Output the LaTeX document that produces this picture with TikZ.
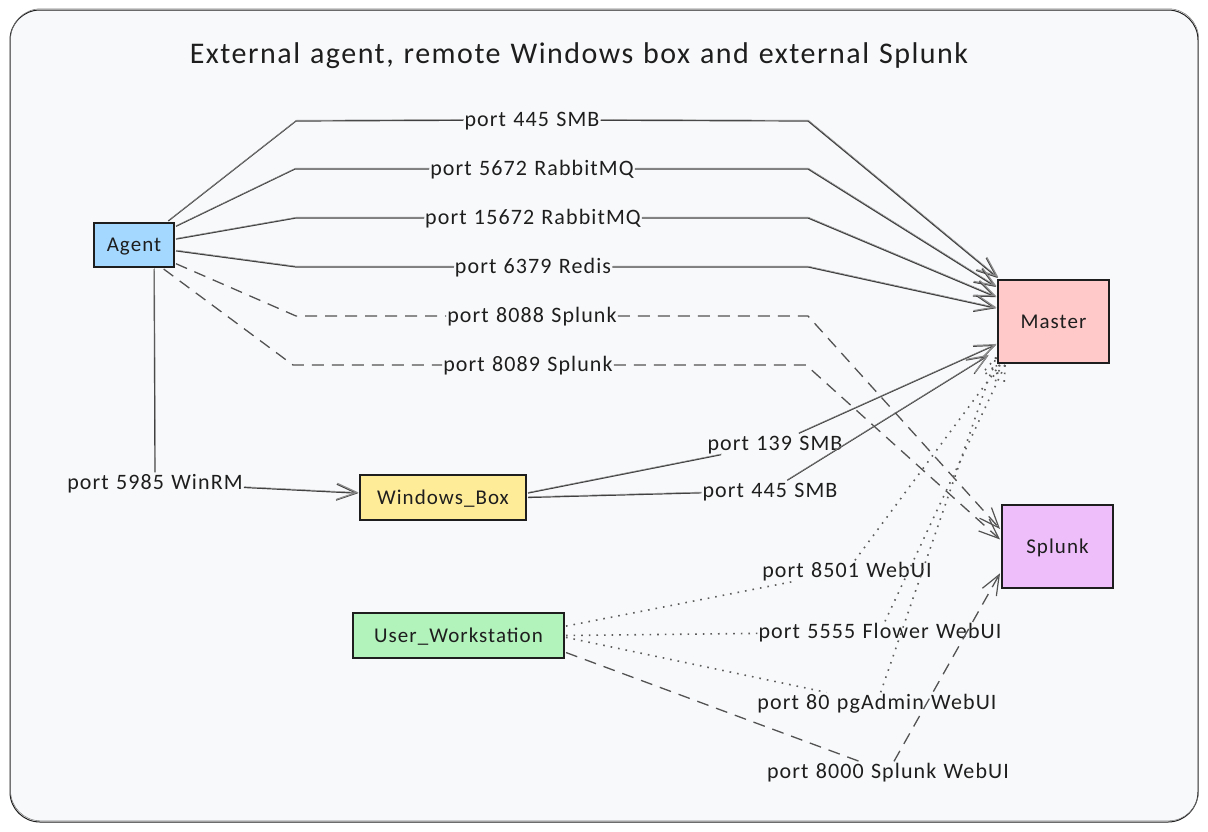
\documentclass[tikz,border=0pt]{standalone}
\usepackage{fontspec}
\setmainfont{Carlito}
\newfontfamily\sketchfont[LetterSpace=5, WordSpace=1.2]{Carlito}
\usetikzlibrary{arrows.meta, decorations.markings}

\definecolor{ink}{HTML}{1E1E1E}
\definecolor{wire}{HTML}{404040}
\definecolor{paper}{HTML}{F8F9FA}
\definecolor{agentblue}{HTML}{A5D8FF}
\definecolor{masterred}{HTML}{FFC9C9}
\definecolor{splunkpurple}{HTML}{EEBEFA}
\definecolor{boxyellow}{HTML}{FFEC99}
\definecolor{usergreen}{HTML}{B2F2BB}

\begin{document}
\begin{tikzpicture} [x=1pt, y=-1pt,
  box/.style={draw=ink, line width=1.9pt, outer sep=2pt, text height=16pt, text depth=3pt, font=\sketchfont\fontsize{21}{25}\selectfont, text=ink},
  port/.style={inner sep=1pt, text height=16pt, text depth=3pt, font=\sketchfont\fontsize{22}{26}\selectfont, text=ink},
  wirehead/.style={-{Straight Barb[length=20pt, width=16pt, line width=1.2pt]}},
  solidwire/.style={draw=wire, line width=1.2pt, postaction={draw=wire!60, line width=.5pt, transform canvas={shift={(.5pt,.8pt)}}}},
  dashwire/.style={draw=wire!90, line width=1.3pt, dash pattern=on 12pt off 8pt},
  dotwire/.style={draw=wire!85, line width=1.6pt, dash pattern=on 1.6pt off 6pt},
  dotbarb/.style={postaction={decorate}, decoration={markings, mark=at position 1 with {
    \draw [dotwire] (0,0) -- (-20pt,8pt);
    \draw [dotwire] (0,0) -- (-20pt,-8pt);}}}]
\useasboundingbox (0,0) rectangle (1208,831);
\draw [draw=ink, line width=1pt, fill=paper, rounded corners=30pt, postaction={draw=ink!60, line width=.5pt, transform canvas={shift={(.6pt,1.2pt)}}}] (10,10) rectangle (1198,822);

\node (title) [text=ink, font=\sketchfont\fontsize{30}{36}\selectfont] at (579,56) {External agent, remote Windows box and external Splunk};

\node (agent) [box, fill=agentblue, minimum width=80pt, minimum height=44pt] at (134,245) {Agent};
\node (master) [box, fill=masterred, minimum width=111pt, minimum height=83pt] at (1053.5,321.5) {Master};
\node (splunk) [box, fill=splunkpurple, minimum width=111pt, minimum height=83pt] at (1057.5,546.5) {Splunk};
\node (winbox) [box, fill=boxyellow, minimum width=166pt, minimum height=45pt] at (443,497.5) {Windows\_Box};
\node (workstation) [box, fill=usergreen, minimum width=211pt, minimum height=45pt] at (458.5,635.5) {User\_Workstation};

\node (smbmaster) [port] at (532,120) {port 445 SMB};
\node (rabbit) [port] at (532,169) {port 5672 RabbitMQ};
\node (rabbitui) [port] at (533,218) {port 15672 RabbitMQ};
\node (redis) [port] at (533,267) {port 6379 Redis};
\node (hecone) [port] at (532,316) {port 8088 Splunk};
\node (hectwo) [port] at (528,365) {port 8089 Splunk};
\node (winrm) [port] at (155,483) {port 5985 WinRM};
\node (netbios) [port] at (775,444) {port 139 SMB};
\node (smbwin) [port] at (770,491) {port 445 SMB};
\node (webui) [port] at (847,571) {port 8501 WebUI};
\node (flower) [port] at (880,632) {port 5555 Flower WebUI};
\node (pgadmin) [port] at (877,703) {port 80 pgAdmin WebUI};
\node (splunkui) [port] at (888,772) {port 8000 Splunk WebUI};

\coordinate (a1) at (296,121);
\coordinate (a2) at (295,169);
\coordinate (a3) at (296,218);
\coordinate (a4) at (296,267);
\coordinate (a5) at (296,316);
\coordinate (a6) at (293,365);
\coordinate (b1) at (808,121);
\coordinate (b2) at (808,169);
\coordinate (b3) at (808,218);
\coordinate (b4) at (808,267);
\coordinate (b5) at (808,316);
\coordinate (b6) at (806,365);

\draw [solidwire] (agent.35) -- (a1) -- (smbmaster);
\draw [solidwire, wirehead] (smbmaster) -- (b1) -- (master.142);
\draw [solidwire] (agent.24) -- (a2) -- (rabbit);
\draw [solidwire, wirehead] (rabbit) -- (b2) -- (master.149);
\draw [solidwire] (agent.8) -- (a3) -- (rabbitui);
\draw [solidwire, wirehead] (rabbitui) -- (b3) -- (master.157);
\draw [solidwire] (agent.-8) -- (a4) -- (redis);
\draw [solidwire, wirehead] (redis) -- (b4) -- (master.167);
\draw [dashwire] (agent.-24) -- (a5) -- (hecone);
\draw [dashwire, wirehead] (hecone) -- (b5) -- (splunk.163);
\draw [dashwire] (agent.-39) -- (a6) -- (hectwo);
\draw [dashwire, wirehead] (hectwo) -- (b6) -- (splunk.173);

\draw [solidwire] (agent.-50) -- (winrm);
\draw [solidwire, wirehead] (winrm) -- (winbox);
\draw [solidwire] (winbox.3.7) -- (netbios);
\draw [solidwire, wirehead] (netbios) -- (master.202);
\draw [solidwire] (winbox.east) -- (smbwin);
\draw [solidwire, wirehead, shorten >=9pt] (smbwin) -- (master.207);

\draw [dotwire] (workstation.5.6) -- (webui);
\draw [dotwire, dotbarb] (webui) -- (master.219);
\draw [dotwire] (workstation.east) -- (flower);
\draw [dotwire, dotbarb] (flower) -- (master.222);
\draw [dotwire] (workstation.-1.5) -- (pgadmin);
\draw [dotwire, dotbarb] (pgadmin) -- (master.212);
\draw [dashwire] (workstation.-9.4) -- (splunkui);
\draw [dashwire, wirehead] (splunkui) -- (splunk.205);
\end{tikzpicture}
\end{document}
